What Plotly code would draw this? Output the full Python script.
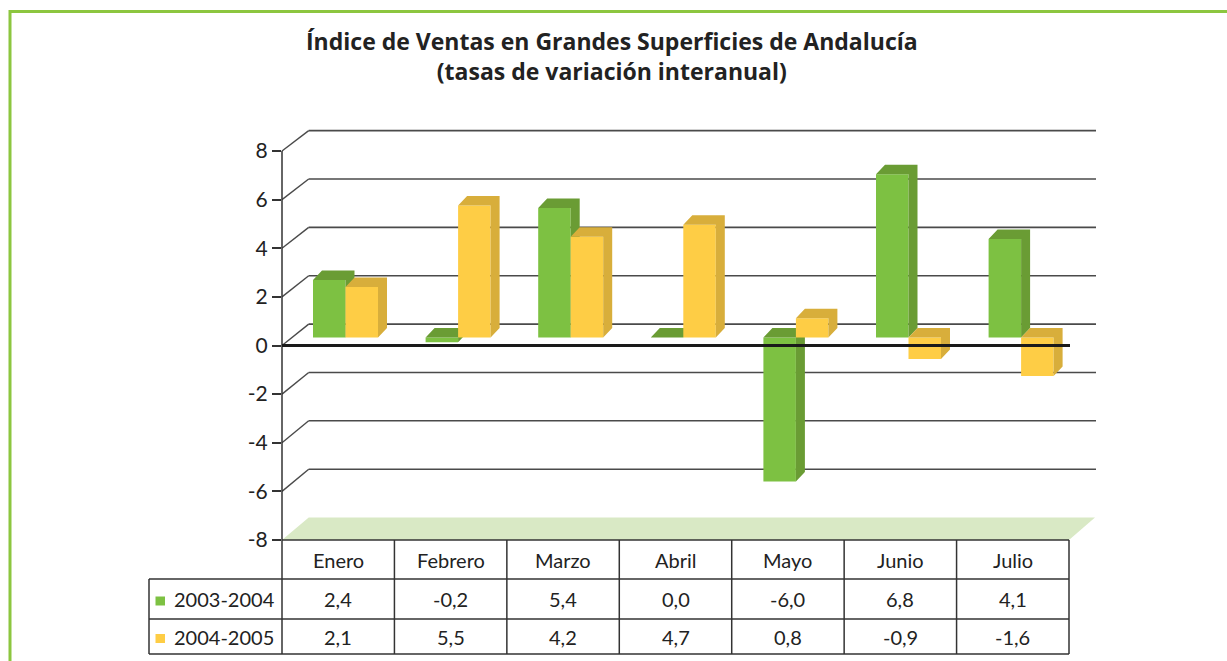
import plotly.graph_objects as go

# ---------------- data ----------------
months = ["Enero", "Febrero", "Marzo", "Abril", "Mayo", "Junio", "Julio"]
series_names = ["2003-2004", "2004-2005"]
vals_0304 = [2.4, -0.2, 5.4, 0.0, -6.0, 6.8, 4.1]
vals_0405 = [2.1, 5.5, 4.2, 4.7, 0.8, -0.9, -1.6]
y_ticks = [-8, -6, -4, -2, 0, 2, 4, 6, 8]
y_ticklabels = ["-8", "-6", "-4", "-2", "0", "2", "4", "6", "8"]
title_text = "Índice de Ventas en Grandes Superficies de Andalucía<br>(tasas de variación interanual)"

# ---------------- style ----------------
GREEN, GREEN_DARK = "#7dc142", "#6a9c34"
YEL, YEL_DARK = "#fecd45", "#d8ae3b"
FLOOR = "#d9e9c5"
FRAME = "#8cc63f"
GRID = "#4a4a4a"
INK = "#222222"
FONT = "Lato"

W, H = 1227, 661
L, R, T, B = 282, 1096, 130, 540          # plot area in pixels


def px(x):
    return (x - L) / (R - L)


def py(y):
    return (B - y) / (B - T)


FRONT0, FRONT_S = 345.5, 24.31    # front plane (ticks, zero line)
BACK0, BACK_S = 324.1, 24.18      # back wall (gridlines)
BAR0, BAR_S = 337.5, 24.0         # bar plane
CAT0, CAT_S = 345.5, 112.6        # category centre / spacing
FRONT_RIGHT = 1069
BACK_LEFT = 308.7


def front_y(v):
    return FRONT0 - v * FRONT_S


def back_y(v):
    return BACK0 - v * BACK_S


x_pos = list(range(len(months)))
bw = 32.5 / CAT_S
dx = 9.0 / CAT_S
dy = 9.5 / BAR_S


def faces(vals, xoff):
    xs, ys = [], []
    for i, v in zip(x_pos, vals):
        xl = i + xoff
        xr = xl + bw
        lo, hi = min(0, v), max(0, v)
        xs += [xr, xr + dx, xr + dx, xr, xr, None]
        ys += [lo, lo + dy, hi + dy, hi, lo, None]
        xs += [xl, xl + dx, xr + dx, xr, xl, None]
        ys += [hi, hi + dy, hi + dy, hi, hi, None]
    return xs, ys


fig = go.Figure()
for k, (vals, col, dcol, off) in enumerate([(vals_0304, GREEN, GREEN_DARK, -bw),
                                             (vals_0405, YEL, YEL_DARK, 0.0)]):
    fig.add_trace(go.Bar(x=x_pos, y=vals, width=bw, offset=off, name=series_names[k],
                         marker=dict(color=col, line=dict(width=0)),
                         zorder=2 * k + 1, showlegend=False, hoverinfo="skip"))
    fx, fy = faces(vals, off)
    fig.add_trace(go.Scatter(x=fx, y=fy, mode="lines", fill="toself", fillcolor=dcol,
                             line=dict(width=0, color=dcol), zorder=2 * k + 2,
                             showlegend=False, hoverinfo="skip"))

# invisible carrier trace so that the front value axis (y2) is drawn
fig.add_trace(go.Scatter(x=x_pos, y=vals_0304, yaxis="y2", mode="markers",
                         marker=dict(opacity=0), showlegend=False, hoverinfo="skip"))

shapes = []
# outer frame
shapes.append(dict(type="line", xref="paper", yref="paper", x0=px(10), x1=px(W + 5),
                   y0=py(11.5), y1=py(11.5), line=dict(color=FRAME, width=3)))
shapes.append(dict(type="line", xref="paper", yref="paper", x0=px(10), x1=px(10),
                   y0=py(10), y1=py(H + 5), line=dict(color=FRAME, width=3)))
# floor
shapes.append(dict(type="path", xref="paper", yref="paper", layer="below",
                   path=f"M {px(L)} {py(front_y(-8))} L {px(BACK_LEFT)} {py(back_y(-8))} "
                        f"L {px(1095)} {py(back_y(-8))} L {px(FRONT_RIGHT)} {py(front_y(-8))} Z",
                   fillcolor=FLOOR, line=dict(width=0)))
# back gridlines + diagonals
for v in y_ticks:
    if v == y_ticks[0]:
        continue
    shapes.append(dict(type="line", xref="paper", yref="paper", layer="below",
                       x0=px(BACK_LEFT), x1=px(R), y0=py(back_y(v)), y1=py(back_y(v)),
                       line=dict(color=GRID, width=1.6)))
    shapes.append(dict(type="line", xref="paper", yref="paper", layer="below",
                       x0=px(L), x1=px(BACK_LEFT), y0=py(front_y(v)), y1=py(back_y(v)),
                       line=dict(color=GRID, width=1.4)))
# front axis line
shapes.append(dict(type="line", xref="paper", yref="paper",
                   x0=px(L), x1=px(L), y0=py(front_y(y_ticks[-1])), y1=py(654),
                   line=dict(color="#333", width=1.5)))
# zero line
shapes.append(dict(type="line", xref="paper", yref="paper",
                   x0=px(L), x1=px(FRONT_RIGHT + 1), y0=py(front_y(0)), y1=py(front_y(0)),
                   line=dict(color="#1a1a1a", width=3)))

# ---------------- data table ----------------
col_w = (FRONT_RIGHT - L) / len(months)
row_top, row1, row2, row_bot = 540, 579, 619, 654
leg_left = 149
tline = dict(color="#333", width=1.5)
shapes.append(dict(type="line", xref="paper", yref="paper", x0=px(L), x1=px(FRONT_RIGHT),
                   y0=py(row_top), y1=py(row_top), line=tline))
for yy in (row1, row2, row_bot):
    shapes.append(dict(type="line", xref="paper", yref="paper", x0=px(leg_left), x1=px(FRONT_RIGHT),
                       y0=py(yy), y1=py(yy), line=tline))
for i in range(1, len(months) + 1):
    xx = L + i * col_w
    shapes.append(dict(type="line", xref="paper", yref="paper", x0=px(xx), x1=px(xx),
                       y0=py(row_top), y1=py(row_bot), line=tline))
shapes.append(dict(type="line", xref="paper", yref="paper", x0=px(leg_left), x1=px(leg_left),
                   y0=py(row1), y1=py(row_bot), line=tline))

annotations = []
tfont = dict(family=FONT, size=20, color=INK)


def fmt(v):
    return f"{v:.1f}".replace(".", ",")


for i, m in enumerate(months):
    cx = px(L + (i + 0.5) * col_w)
    annotations.append(dict(xref="paper", yref="paper", x=cx, y=py((row_top + row1) / 2),
                            text=m, showarrow=False, font=tfont, xanchor="center", yanchor="middle"))
    annotations.append(dict(xref="paper", yref="paper", x=cx, y=py((row1 + row2) / 2),
                            text=fmt(vals_0304[i]), showarrow=False, font=tfont,
                            xanchor="center", yanchor="middle"))
    annotations.append(dict(xref="paper", yref="paper", x=cx, y=py((row2 + row_bot) / 2),
                            text=fmt(vals_0405[i]), showarrow=False, font=tfont,
                            xanchor="center", yanchor="middle"))

for (ya, yb), col, name in [((row1, row2), GREEN, series_names[0]),
                            ((row2, row_bot), YEL, series_names[1])]:
    cy = (ya + yb) / 2 + 2
    shapes.append(dict(type="rect", xref="paper", yref="paper", x0=px(155.5), x1=px(165),
                       y0=py(cy - 4.5), y1=py(cy + 4.5), fillcolor=col, line=dict(width=0)))
    annotations.append(dict(xref="paper", yref="paper", x=px(172), y=py((ya + yb) / 2),
                            text=name, showarrow=False, font=tfont, xanchor="left", yanchor="middle"))

# title (two centred lines in one text)
annotations.append(dict(xref="paper", yref="paper", x=px(612), y=py(56),
                        text="<b>" + title_text.replace("<br>", "</b><br><b>") + "</b>",
                        showarrow=False, align="center",
                        font=dict(family="Open Sans", size=23, color=INK),
                        xanchor="center", yanchor="middle"))

fig.update_layout(
    width=W, height=H,
    margin=dict(l=L, r=W - R, t=T, b=H - B, pad=0),
    paper_bgcolor="white", plot_bgcolor="rgba(0,0,0,0)",
    barmode="overlay",
    xaxis=dict(range=[-(CAT0 - L) / CAT_S, -(CAT0 - L) / CAT_S + (R - L) / CAT_S],
               visible=False, fixedrange=True),
    yaxis=dict(range=[-(B - BAR0) / BAR_S, (BAR0 - T) / BAR_S], visible=False),
    yaxis2=dict(overlaying="y", side="left", anchor="x",
                range=[-(B - FRONT0) / FRONT_S, (FRONT0 - T) / FRONT_S],
                tickmode="array", tickvals=y_ticks, ticktext=y_ticklabels,
                ticks="outside", ticklen=9, tickwidth=1.5, tickcolor="#333",
                showline=False, showgrid=False, zeroline=False,
                tickfont=dict(family=FONT, size=21, color=INK)),
    shapes=shapes,
    annotations=annotations,
    showlegend=False,
)

fig.write_html("out.html", config={"displayModeBar": False},
               post_script="document.body.style.margin='0px';")
